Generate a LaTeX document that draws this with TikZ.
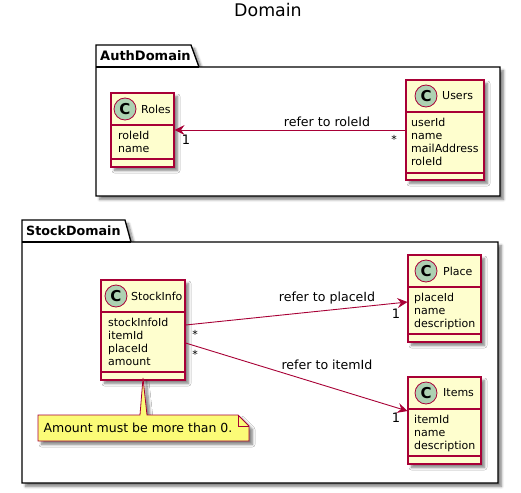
\documentclass[tikz,border=0pt]{standalone}
\usepackage{fontspec}
\setmainfont{DejaVu Sans}
\usetikzlibrary{arrows.meta,shadows.blur}
\definecolor{umlred}{HTML}{A80036}
\definecolor{umlyellow}{HTML}{FEFECE}
\definecolor{umlgreen}{HTML}{ADD1B2}
\definecolor{umlnote}{HTML}{FBFB77}
\tikzset{
	softshadow/.style = {blur shadow = {shadow xshift = 3.5pt, shadow yshift = -3.5pt, shadow blur radius = 2.5pt, shadow blur steps = 6, shadow opacity = 50}},
	packagebox/.style = {draw = black, fill = white, line width = 1.3pt, softshadow},
	classbox/.style = {draw = umlred, fill = umlyellow, line width = 1.1pt, softshadow, inner sep = 0pt},
	classline/.style = {draw = umlred, line width = 1.1pt},
	classmark/.style = {circle, draw = umlred, fill = umlgreen, line width = 0.8pt, minimum size = 22pt, inner sep = 0pt, font = \fontsize{15}{15}\bfseries},
	classname/.style = {font = \fontsize{11}{13}\selectfont, inner sep = 0pt, anchor = west},
	attrlist/.style = {font = \fontsize{11}{13}\selectfont, align = left, inner sep = 0pt, anchor = north west},
	assoc/.style = {draw = umlred, line width = 0.9pt},
	assochead/.style = {assoc, -{Stealth[inset = 3.5pt, length = 10pt, width = 10pt]}},
	assoclabel/.style = {font = \fontsize{12.6}{15}\selectfont, inner sep = 0pt},
	multlabel/.style = {font = \fontsize{13}{15}\selectfont, inner sep = 0pt},
	manylabel/.style = {font = \fontsize{11}{15}\selectfont, inner sep = 0pt},
}
\begin{document}
\begin{tikzpicture}[x = 1pt, y = -1pt]
	\useasboundingbox (0,0) rectangle (521,492);
	\node (title) at (268,10) {\fontsize{17.4}{20}\selectfont Domain};
	% auth package
	\draw [packagebox] (96,67) -- (96,45) -- (191,45) -- (199,67) -- (500,67) -- (500,196) -- (96,196) -- cycle;
	\draw [line width = 1.3pt] (96,67) -- (199,67);
	\node [anchor = west, inner sep = 0pt] (authname) at (100,56) {\fontsize{13}{15}\bfseries AuthDomain};
	% stock package
	\draw [packagebox] (22,242) -- (22,220) -- (125,220) -- (131,242) -- (498,242) -- (498,483) -- (22,483) -- cycle;
	\draw [line width = 1.3pt] (22,242) -- (131,242);
	\node [anchor = west, inner sep = 0pt] (stockname) at (26,231) {\fontsize{12.7}{15}\bfseries StockDomain};
	% roles
	\node [classbox, minimum width = 63pt, minimum height = 74pt] (roles) at (142.5,130) {};
	\draw [classline] (111,125) -- (174,125);
	\draw [classline] (111,159) -- (174,159);
	\node [classmark] (rolesmark) at (125,109) {C};
	\node [classname] (rolesname) at (141,109) {Roles};
	\node [attrlist] (rolesattr) at (118,131) {roleId\\name};
	% users
	\node [classbox, minimum width = 78pt, minimum height = 100pt] (users) at (445,130) {};
	\draw [classline] (406,112) -- (484,112);
	\draw [classline] (406,173) -- (484,173);
	\node [classmark] (usersmark) at (426,96) {C};
	\node [classname] (usersname) at (442,96) {Users};
	\node [attrlist] (usersattr) at (411,118) {userId\\name\\mailAddress\\roleId};
	% stock info
	\node [classbox, minimum width = 84pt, minimum height = 100pt] (stockinfo) at (143,330) {};
	\draw [classline] (101,312) -- (185,312);
	\draw [classline] (101,372) -- (185,372);
	\node [classmark] (stockinfomark) at (116,296) {C};
	\node [classname] (stockinfoname) at (131,296) {StockInfo};
	\node [attrlist] (stockinfoattr) at (108,318) {stockInfoId\\itemId\\placeId\\amount};
	% place
	\node [classbox, minimum width = 73pt, minimum height = 87pt] (place) at (444.5,298.5) {};
	\draw [classline] (408,287) -- (481,287);
	\draw [classline] (408,334) -- (481,334);
	\node [classmark] (placemark) at (426,271) {C};
	\node [classname] (placename) at (443,271) {Place};
	\node [attrlist] (placeattr) at (414,293) {placeId\\name\\description};
	% items
	\node [classbox, minimum width = 73pt, minimum height = 87pt] (items) at (444.5,420.5) {};
	\draw [classline] (408,409) -- (481,409);
	\draw [classline] (408,456) -- (481,456);
	\node [classmark] (itemsmark) at (426,393) {C};
	\node [classname] (itemsname) at (443,393) {Items};
	\node [attrlist] (itemsattr) at (414,415) {itemId\\name\\description};
	% note
	\draw [draw = umlred, fill = umlnote, line width = 0.8pt, softshadow] (38,415) -- (140,415) -- (143,378) -- (147,415) -- (238,415) -- (249,426) -- (249,441) -- (38,441) -- cycle;
	\draw [draw = umlred, line width = 0.8pt] (238,415) -- (238,426) -- (249,426);
	\node [inner sep = 0pt] (notetext) at (138,428) {\fontsize{12.5}{15}\selectfont Amount must be more than 0.};
	% associations
	\draw [assochead] (users.west) -- (roles.east);
	\draw [assochead] ([yshift = 5pt]stockinfo.east) -- ([yshift = -3.5pt]place.west);
	\draw [assochead] ([yshift = -13pt]stockinfo.east) -- ([yshift = 9.5pt]items.west);
	\node [assoclabel] (rolelabel) at (327,122) {refer to roleId};
	\node [assoclabel] (placelabel) at (327,298) {refer to placeId};
	\node [assoclabel] (itemlabel) at (327,365) {refer to itemId};
	\node [multlabel] (rolesone) at (186,140) {1};
	\node [manylabel] (usersmany) at (394,139) {*};
	\node [manylabel] (infomanya) at (195,334) {*};
	\node [manylabel] (infomanyb) at (195,354) {*};
	\node [multlabel] (placeone) at (396,314) {1};
	\node [multlabel] (itemsone) at (396,418) {1};
\end{tikzpicture}
\end{document}
